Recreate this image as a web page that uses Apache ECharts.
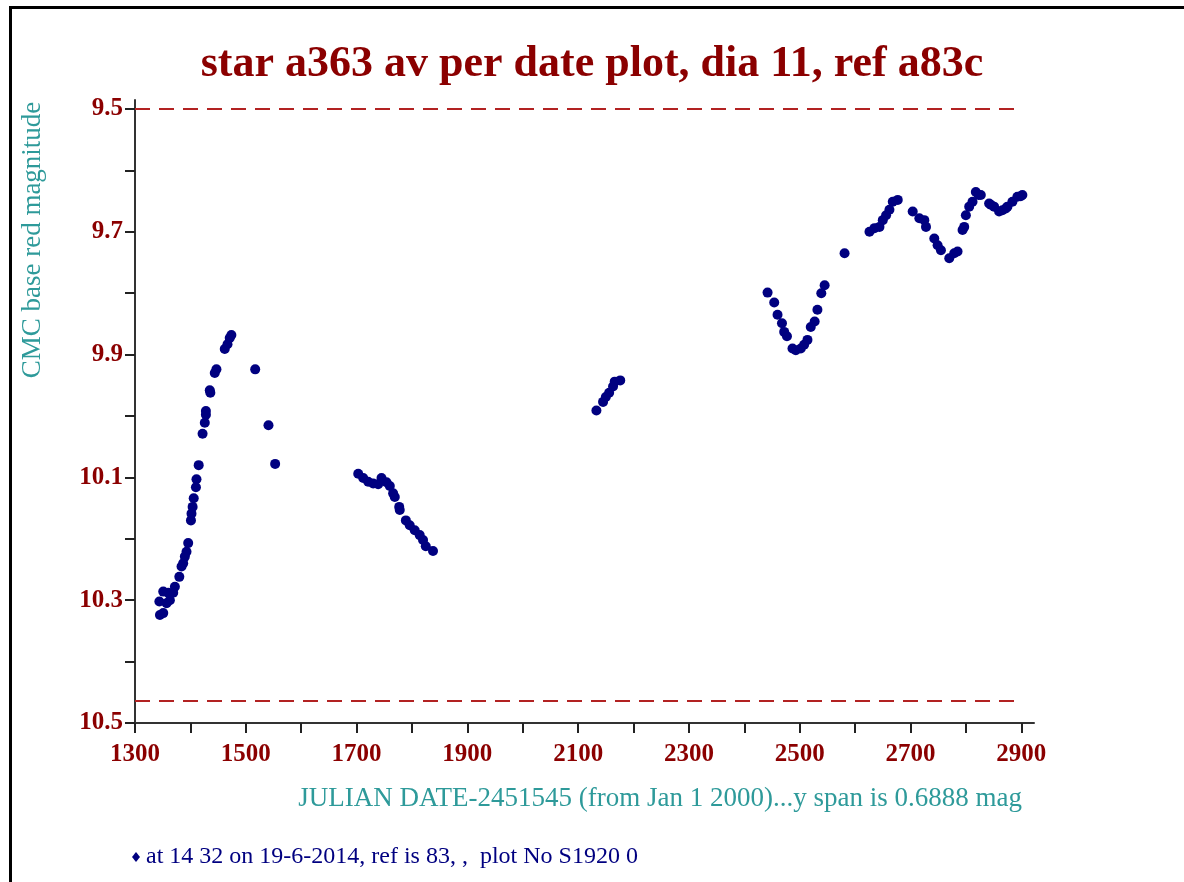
<!DOCTYPE html>
<html>
<head>
<meta charset="utf-8">
<script src="https://cdn.jsdelivr.net/npm/echarts@6/dist/echarts.min.js"></script>
<style>
html,body{margin:0;padding:0;background:#fff;}
#chart{width:1184px;height:882px;}
</style>
</head>
<body>
<div id="chart"></div>
<script>
const titleText = 'star a363 av per date plot, dia 11, ref a83c';
const yAxisTitle = 'CMC base red magnitude';
const xAxisTitle = 'JULIAN DATE-2451545 (from Jan 1 2000)...y span is 0.6888 mag';
const legendText = 'at 14 32 on 19-6-2014, ref is 83, ,  plot No S1920 0';

const xTicks = [1300,1400,1500,1600,1700,1800,1900,2000,2100,2200,2300,2400,2500,2600,2700,2800,2900];
const xLabels = [1300,1500,1700,1900,2100,2300,2500,2700,2900];
const yTicks = [9.5,9.6,9.7,9.8,9.9,10.0,10.1,10.2,10.3,10.4,10.5];
const yLabels = [9.5,9.7,9.9,10.1,10.3,10.5];
const limitLines = [9.5, 10.463];

const jd = [
 1345,1344,1351,1351,1357,1360,1363,1369,1372,1380,1384,1387,1390,1393,1396,1401,1402,1404,1406,1410,1411,1415,1422,1426,1428,1428,1435,1436,1444,1447,1462,1467,1471,1474,1517,1541,1553,
 1703,1712,1721,1730,1739,1745,1754,1760,1766,1769,1777,1778,1789,1796,1805,1814,1820,1825,1838,
 2133,2145,2150,2156,2163,2166,2176,
 2442,2454,2460,2468,2472,2477,2487,2493,2502,2508,2514,2520,2527,2532,2539,2545,
 2581,2626,2635,2644,2650,2656,2662,2668,2677,2704,2716,2725,2728,2743,2749,2755,2770,2779,2785,2794,2797,2800,2806,2812,2818,2823,2827,2842,2845,2851,2860,2866,2872,2875,2884,2893,2899,2902
];
const mag = [
 10.324,10.302,10.321,10.286,10.305,10.288,10.300,10.288,10.278,10.262,10.245,10.240,10.229,10.221,10.207,10.170,10.159,10.148,10.134,10.116,10.103,10.080,10.029,10.011,9.998,9.992,9.958,9.962,9.930,9.924,9.891,9.883,9.873,9.868,9.924,10.015,10.078,
 10.094,10.101,10.107,10.110,10.111,10.101,10.108,10.114,10.126,10.132,10.148,10.153,10.170,10.178,10.186,10.194,10.202,10.212,10.220,
 9.991,9.977,9.969,9.962,9.952,9.944,9.942,
 9.799,9.815,9.835,9.849,9.863,9.870,9.890,9.893,9.890,9.884,9.876,9.855,9.846,9.827,9.800,9.787,
 9.735,9.700,9.694,9.692,9.681,9.673,9.664,9.651,9.648,9.667,9.678,9.681,9.692,9.711,9.722,9.730,9.743,9.735,9.732,9.697,9.692,9.673,9.659,9.651,9.635,9.640,9.640,9.654,9.656,9.659,9.667,9.665,9.662,9.659,9.651,9.643,9.642,9.640
];

const points = jd.map((d, i) => [d, mag[i]]);
const serif = "'Liberation Serif','Times New Roman',serif";
const darkRed = '#8b0000';
const teal = '#2e9a9a';
const navy = '#000080';

const chart = echarts.init(document.getElementById('chart'));
chart.setOption({
  backgroundColor: '#fff',
  animation: false,
  grid: {left: 135, right: 150, top: 100, bottom: 159},
  title: {
    text: titleText, left: 'center', top: 38,
    textStyle: {fontFamily: serif, fontWeight: 'bold', fontSize: 44, color: darkRed}
  },
  xAxis: {
    type: 'value', min: 1300, max: 2923,
    splitLine: {show: false},
    axisLine: {lineStyle: {color: '#333', width: 2}},
    axisTick: {show: true, length: 10, lineStyle: {color: '#222', width: 2}, customValues: xTicks},
    axisLabel: {
      customValues: xLabels, margin: 19,
      fontFamily: serif, fontWeight: 'bold', fontSize: 25, color: darkRed,
      formatter: v => String(v)
    }
  },
  yAxis: {
    type: 'value', inverse: true, min: 9.4853, max: 10.5,
    splitLine: {show: false},
    axisLine: {lineStyle: {color: '#333', width: 2}},
    axisTick: {show: true, length: 10, lineStyle: {color: '#222', width: 2}, customValues: yTicks},
    axisLabel: {
      customValues: yLabels, margin: 12,
      fontFamily: serif, fontWeight: 'bold', fontSize: 25, color: darkRed,
      formatter: v => v.toFixed(1)
    }
  },
  graphic: [
    {type: 'rect', left: 8, top: 5, shape: {width: 1300, height: 1000}, style: {fill: 'none', stroke: '#000', lineWidth: 3}, z: 100, silent: true},
    {type: 'text', x: 33, y: 240, rotation: Math.PI / 2,
     style: {text: yAxisTitle, fontFamily: serif, fontSize: 27, fill: teal, align: 'center', verticalAlign: 'middle'}},
    {type: 'text', x: 1022, y: 799,
     style: {text: xAxisTitle, fontFamily: serif, fontSize: 27, fill: teal, align: 'right', verticalAlign: 'middle'}},
    {type: 'text', x: 146, y: 857,
     style: {text: legendText, fontFamily: serif, fontSize: 24, fill: navy, align: 'left', verticalAlign: 'middle'}},
    {type: 'polygon', shape: {points: [[136, 852], [140, 857], [136, 862], [132, 857]]}, style: {fill: navy}}
  ],
  series: [{
    type: 'scatter',
    name: 'mag',
    data: points,
    symbol: 'circle',
    symbolSize: 10,
    itemStyle: {color: navy, opacity: 1},
    markLine: {
      silent: true, symbol: ['none', 'none'], label: {show: false},
      lineStyle: {color: '#b22222', type: [15, 9], width: 2, opacity: 1},
      data: limitLines.map(v => [{coord: [1300, v]}, {coord: [2900, v]}])
    }
  }]
});
</script>
</body>
</html>
